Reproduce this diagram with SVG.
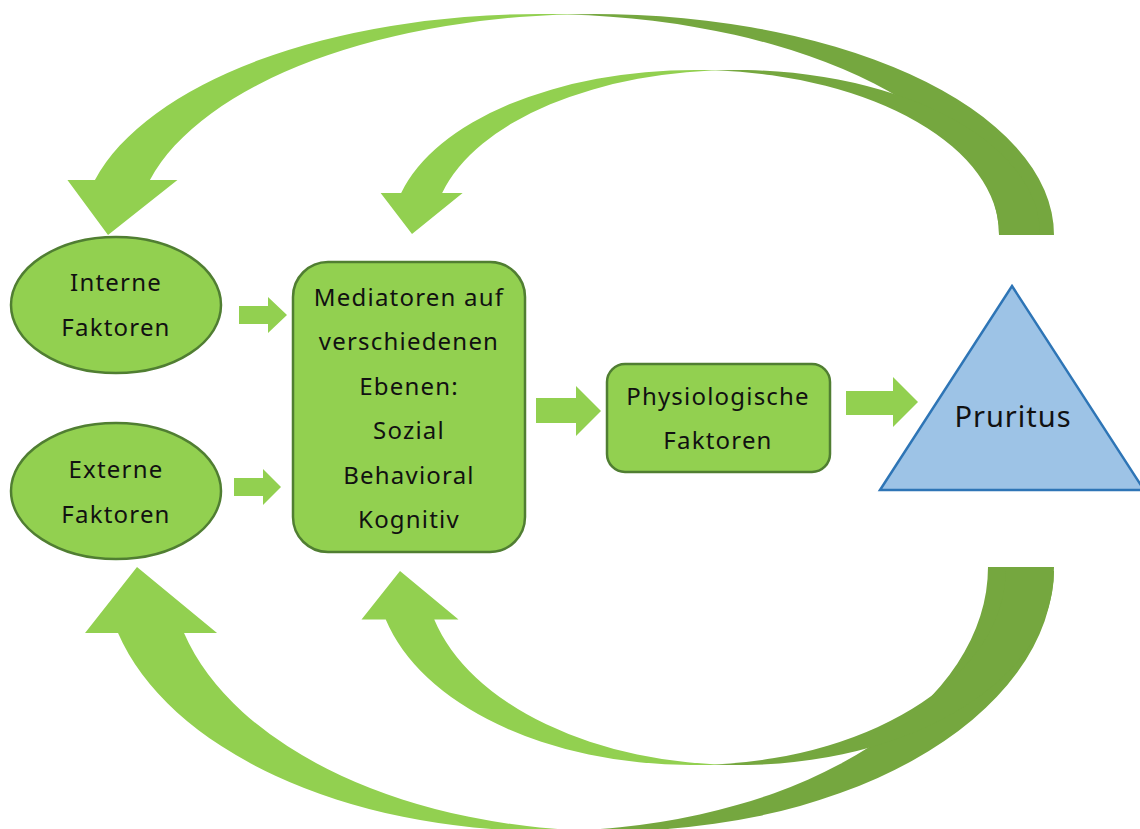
<svg xmlns="http://www.w3.org/2000/svg" width="1140" height="829" viewBox="0 0 1140 829">
<style>
.lt{fill:#92D050}
.dk{fill:#75A73F}
.node{fill:#92D050;stroke:#507E32;stroke-width:2.5}
.tri{fill:#9DC3E6;stroke:#2E75B6;stroke-width:2.5}
.txt{font-family:"Noto Sans","DejaVu Sans",sans-serif;font-size:24px;fill:#111;text-anchor:middle;letter-spacing:1.2px}
.big{font-size:29px;letter-spacing:1px}
</style>
<rect width="1140" height="829" fill="#fff"/>
<g id="connectors">
  <!-- top outer curved arrow: Pruritus -> Interne Faktoren -->
  <path class="lt" d="M108 235 L177.44 180 L149.94 180 A459.25 221 0 0 1 594.75 14 L539.75 14 A459.25 221 0 0 0 94.94 180 L67.44 180 Z"/>
  <path class="dk" d="M567.25 14.4 A459.25 221 0 0 1 999 235 L1054 235 A459.25 221 0 0 0 567.25 14.4 Z"/>
  <!-- top inner curved arrow: Pruritus -> Mediatoren -->
  <path class="lt" d="M412 234 L462.64 193 L442.14 193 A303.75 164 0 0 1 736.25 70 L695.25 70 A303.75 164 0 0 0 401.14 193 L380.64 193 Z"/>
  <path class="dk" d="M715.75 70.37 A303.75 164 0 0 1 999 234 L1040 234 A303.75 164 0 0 0 715.75 70.37 Z"/>
  <!-- bottom outer curved arrow: Pruritus -> Externe Faktoren -->
  <path class="lt" d="M137 567 L217.04 633 L184.04 633 A442 264 0 0 0 612 831 L546 831 A442 264 0 0 1 118.04 633 L85.04 633 Z"/>
  <path class="dk" d="M579 830.26 A442 264 0 0 0 988 567 L1054 567 A442 264 0 0 1 579 830.26 Z"/>
  <!-- bottom inner curved arrow: Pruritus -> Mediatoren -->
  <path class="lt" d="M400 571 L458.5 619.5 L434.25 619.5 A314.875 194 0 0 0 739.125 765 L690.625 765 A314.875 194 0 0 1 385.75 619.5 L361.5 619.5 Z"/>
  <path class="dk" d="M714.875 764.42 A314.875 194 0 0 0 1005.5 571 L1054 571 A314.875 194 0 0 1 714.875 764.42 Z"/>
  <!-- straight block arrows -->
  <path class="lt" d="M239 306 H268 V297 L287 315 L268 333 V324 H239 Z"/>
  <path class="lt" d="M234 478 H263 V469 L281 487 L263 505 V496 H234 Z"/>
  <path class="lt" d="M536 398 H576 V386 L601 411 L576 436 V423 H536 Z"/>
  <path class="lt" d="M846 391 H893 V377 L918 402 L893 427 V415 H846 Z"/>
</g>
<g id="interne">
  <ellipse class="node" cx="116" cy="305" rx="105" ry="68"/>
  <text class="txt" x="116" y="291">Interne</text>
  <text class="txt" x="116" y="336">Faktoren</text>
</g>
<g id="externe">
  <ellipse class="node" cx="116" cy="491" rx="105" ry="68"/>
  <text class="txt" x="116" y="478">Externe</text>
  <text class="txt" x="116" y="523">Faktoren</text>
</g>
<g id="mediatoren">
  <rect class="node" x="293" y="262" width="232" height="290" rx="35" ry="35"/>
  <text class="txt" x="409" y="306">Mediatoren auf</text>
  <text class="txt" x="409" y="350">verschiedenen</text>
  <text class="txt" x="409" y="395">Ebenen:</text>
  <text class="txt" x="409" y="439">Sozial</text>
  <text class="txt" x="409" y="484">Behavioral</text>
  <text class="txt" x="409" y="528">Kognitiv</text>
</g>
<g id="physiologische">
  <rect class="node" x="607" y="364" width="223" height="108" rx="18" ry="18"/>
  <text class="txt" x="718" y="405">Physiologische</text>
  <text class="txt" x="718" y="449">Faktoren</text>
</g>
<g id="pruritus">
  <polygon class="tri" points="1012,286 1144,490 880,490"/>
  <text class="txt big" x="1013" y="427">Pruritus</text>
</g>
</svg>
